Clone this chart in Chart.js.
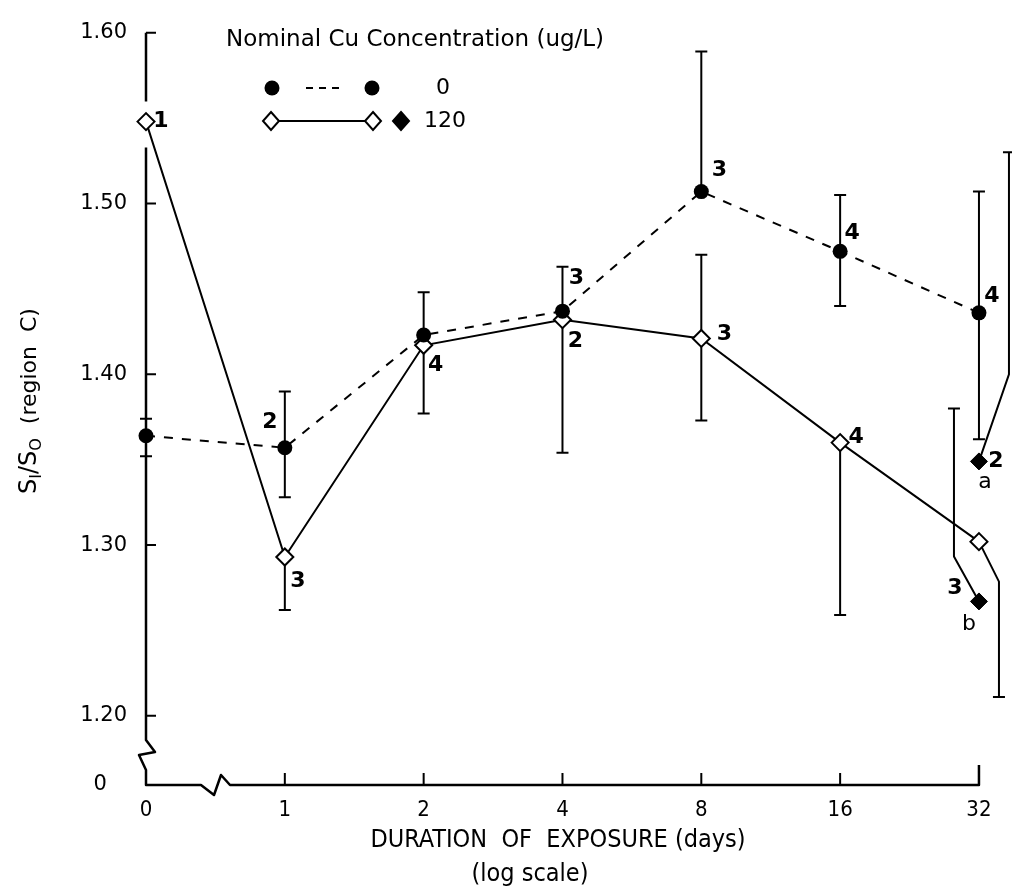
<!DOCTYPE html>
<html lang="en">
<head>
<meta charset="UTF-8">
<title>Sl/So region C vs exposure</title>
<script src="https://cdn.jsdelivr.net/npm/chart.js"></script>
<style>
  html, body { margin: 0; padding: 0; background: #fff; }
  canvas { display: block; }
</style>
</head>
<body>
<canvas id="cuChart" width="1012" height="890"></canvas>
<script>
// exposure days on a log axis, plotted at evenly spaced positions
const dayLabels = ['0', '1', '2', '4', '8', '16', '32'];
const dayPos = [0, 1, 2, 3, 4, 5, 6];
const yTickValues = [1.20, 1.30, 1.40, 1.50, 1.60];

// 0 ug/L
const ctrlMean = [1.364, 1.357, 1.423, 1.437, 1.507, 1.472, 1.436];
const ctrlHigh = [1.374, 1.390, 1.448, 1.463, 1.589, 1.505, 1.507];
const ctrlLow  = [1.352, 1.328, 1.377, null, null, 1.440, 1.362];
const ctrlN    = [null, '2', null, '3', '3', '4', '4'];

// 120 ug/L
const cuMean = [1.548, 1.293, 1.417, 1.432, 1.421, 1.360, 1.302];
const cuHigh = [null, null, null, null, 1.470, null, null];
const cuLow  = [null, 1.262, null, 1.354, 1.373, 1.259, 1.211];
const cuN    = ['1', '3', '4', '2', '3', '4', null];

// 120 ug/L, groups a and b at 32 days
const groupNames = ['a', 'b'];
const groupMean  = [1.349, 1.267];
const groupHigh  = [1.530, 1.380];
const groupN     = ['2', '3'];

const FONT = '"DejaVu Sans", sans-serif';
const NARROW = '"DejaVu Sans Condensed", "Liberation Sans Narrow", "DejaVu Sans", sans-serif';

const pts = (xs, ys) => ys.map((v, i) => ({ x: xs[i], y: v }));

// error bars, drawn under the markers; "leaders" bend the bar sideways
const errorBars = {
  id: 'errorBars',
  beforeDatasetsDraw(chart) {
    const ctx = chart.ctx, ys = chart.scales.y;
    ctx.save();
    ctx.strokeStyle = '#000';
    ctx.lineWidth = 2;
    chart.data.datasets.forEach((ds, i) => {
      const meta = chart.getDatasetMeta(i);
      meta.data.forEach((pt, j) => {
        ['errHigh', 'errLow'].forEach(key => {
          const end = ds[key] ? ds[key][j] : null;
          if (end == null) return;
          const ye = ys.getPixelForValue(end);
          const lead = ds.leaders ? ds.leaders[j] : null;
          let x = pt.x, y = pt.y;
          ctx.beginPath();
          ctx.moveTo(x, y);
          if (lead) {
            x += lead.dx;
            y += (ye < y ? -1 : 1) * lead.dy;
            ctx.lineTo(x, y);
          }
          ctx.lineTo(x, ye);
          ctx.moveTo(x - 6, ye);
          ctx.lineTo(x + 6, ye);
          ctx.stroke();
        });
      });
    });
    ctx.restore();
  }
};

// axes with inward ticks and the broken-axis marks
const brokenAxes = {
  id: 'brokenAxes',
  beforeDatasetsDraw(chart) {
    const { ctx, chartArea: a, scales: { x, y } } = chart;
    const L = a.left, B = a.bottom;
    const gapY = y.getPixelForValue(cuMean[0]);
    ctx.save();
    ctx.strokeStyle = '#000';
    ctx.lineWidth = 2.5;
    ctx.lineJoin = 'round';
    ctx.beginPath();
    // y axis, interrupted around the first 120 ug/L point
    ctx.moveTo(L, y.getPixelForValue(1.60));
    ctx.lineTo(L, gapY - 20);
    ctx.moveTo(L, gapY + 26);
    // break near the bottom
    ctx.lineTo(L, B - 45);
    ctx.lineTo(L + 9, B - 33);
    ctx.lineTo(L - 7, B - 30);
    ctx.lineTo(L, B - 15);
    ctx.lineTo(L, B);
    // x axis with break after 0
    ctx.lineTo(L + 55, B);
    ctx.lineTo(L + 68, B + 10);
    ctx.lineTo(L + 75, B - 10);
    ctx.lineTo(L + 84, B);
    ctx.lineTo(x.getPixelForValue(6), B);
    ctx.lineTo(x.getPixelForValue(6), B - 20);
    ctx.stroke();
    ctx.lineWidth = 2;
    ctx.beginPath();
    yTickValues.forEach(v => {
      const py = y.getPixelForValue(v);
      ctx.moveTo(L, py);
      ctx.lineTo(L + 10, py);
    });
    dayPos.slice(1, 6).forEach(v => {
      const px = x.getPixelForValue(v);
      ctx.moveTo(px, B);
      ctx.lineTo(px, B - 12);
    });
    ctx.stroke();
    ctx.restore();
  }
};

// sample-size numbers and group letters next to the points
const pointNotes = {
  id: 'pointNotes',
  afterDatasetsDraw(chart) {
    const ctx = chart.ctx;
    ctx.save();
    ctx.fillStyle = '#000';
    ctx.textAlign = 'center';
    ctx.textBaseline = 'middle';
    chart.data.datasets.forEach((ds, i) => {
      if (!ds.notes) return;
      const meta = chart.getDatasetMeta(i);
      ds.notes.forEach((list, j) => {
        (list || []).forEach(n => {
          ctx.font = (n.bold ? 'bold ' : '') + '22px ' + FONT;
          ctx.fillText(n.text, meta.data[j].x + n.dx, meta.data[j].y + n.dy);
        });
      });
    });
    ctx.restore();
  }
};

// legend, y title with subscripts, two-line x title
const annotations = {
  id: 'annotations',
  afterDraw(chart) {
    const ctx = chart.ctx;
    ctx.save();
    ctx.fillStyle = '#000';
    ctx.strokeStyle = '#000';
    ctx.textBaseline = 'middle';

    ctx.font = '23px ' + FONT;
    ctx.textAlign = 'left';
    ctx.fillText('Nominal Cu Concentration (ug/L)', 226, 40);

    const dot = (cx, cy) => { ctx.beginPath(); ctx.arc(cx, cy, 7.5, 0, Math.PI * 2); ctx.fill(); };
    const diamond = (cx, cy, filled) => {
      ctx.beginPath();
      ctx.moveTo(cx, cy - 9); ctx.lineTo(cx + 8, cy); ctx.lineTo(cx, cy + 9); ctx.lineTo(cx - 8, cy); ctx.closePath();
      ctx.fillStyle = filled ? '#000' : '#fff';
      ctx.fill();
      ctx.lineWidth = 2;
      ctx.stroke();
      ctx.fillStyle = '#000';
    };
    dot(272, 88);
    ctx.lineWidth = 2;
    ctx.setLineDash([7, 6]);
    ctx.beginPath(); ctx.moveTo(306, 88); ctx.lineTo(342, 88); ctx.stroke();
    ctx.setLineDash([]);
    dot(372, 88);
    ctx.beginPath(); ctx.moveTo(279, 121); ctx.lineTo(365, 121); ctx.stroke();
    diamond(271, 121, false);
    diamond(373, 121, false);
    diamond(401, 121, true);
    ctx.font = '22px ' + FONT;
    ctx.textAlign = 'center';
    ctx.fillText('0', 443, 88);
    ctx.fillText('120', 445, 121);

    // y title: S_I/S_O (region C)
    ctx.save();
    ctx.translate(30, 494);
    ctx.rotate(-Math.PI / 2);
    ctx.textAlign = 'left';
    let xx = 0;
    const put = (t, size, dy) => {
      ctx.font = size + 'px ' + FONT;
      ctx.fillText(t, xx, dy);
      xx += ctx.measureText(t).width;
    };
    put('S', 24, 0); put('I', 16, 7); put('/', 24, 0);
    put('S', 24, 0); put('O', 16, 7); put('  (region  C)', 22, 0);
    ctx.restore();

    // x title
    ctx.font = '25px ' + NARROW;
    ctx.textAlign = 'center';
    ctx.fillText('DURATION  OF  EXPOSURE (days)', 558, 840);
    ctx.fillText('(log scale)', 530, 874);
    ctx.restore();
  }
};

new Chart(document.getElementById('cuChart'), {
  type: 'line',
  data: {
    datasets: [
      {
        label: '0',
        data: pts(dayPos, ctrlMean),
        errHigh: ctrlHigh,
        errLow: ctrlLow,
        notes: [
          null,
          [{ text: ctrlN[1], dx: -15, dy: -25, bold: true }],
          null,
          [{ text: ctrlN[3], dx: 14, dy: -33, bold: true }],
          [{ text: ctrlN[4], dx: 18, dy: -21, bold: true }],
          [{ text: ctrlN[5], dx: 12, dy: -18, bold: true }],
          [{ text: ctrlN[6], dx: 13, dy: -17, bold: true }]
        ],
        clip: false,
        borderColor: '#000',
        borderWidth: 2,
        borderDash: [9, 9],
        pointStyle: 'circle',
        pointRadius: 7.5,
        pointBackgroundColor: '#000',
        pointBorderColor: '#000',
        pointBorderWidth: 0,
        tension: 0
      },
      {
        label: '120',
        data: pts(dayPos, cuMean),
        errHigh: cuHigh,
        errLow: cuLow,
        leaders: [null, null, null, null, null, null, { dx: 20, dy: 40 }],
        notes: [
          [{ text: cuN[0], dx: 15, dy: 0, bold: true }],
          [{ text: cuN[1], dx: 13, dy: 24, bold: true }],
          [{ text: cuN[2], dx: 12, dy: 20, bold: true }],
          [{ text: cuN[3], dx: 13, dy: 22, bold: true }],
          [{ text: cuN[4], dx: 23, dy: -4, bold: true }],
          [{ text: cuN[5], dx: 16, dy: -5, bold: true }],
          null
        ],
        clip: false,
        borderColor: '#000',
        borderWidth: 2,
        pointStyle: 'rectRot',
        pointRadius: 8.5,
        pointBackgroundColor: '#fff',
        pointBorderColor: '#000',
        pointBorderWidth: 2,
        tension: 0
      },
      {
        label: '120 (a, b)',
        data: pts([6, 6], groupMean),
        errHigh: groupHigh,
        leaders: [{ dx: 30, dy: 87 }, { dx: -25, dy: 45 }],
        notes: [
          [{ text: groupN[0], dx: 17, dy: 0, bold: true }, { text: groupNames[0], dx: 6, dy: 21 }],
          [{ text: groupN[1], dx: -24, dy: -13, bold: true }, { text: groupNames[1], dx: -10, dy: 23 }]
        ],
        clip: false,
        showLine: false,
        pointStyle: 'rectRot',
        pointRadius: 8.5,
        pointBackgroundColor: '#000',
        pointBorderColor: '#000',
        pointBorderWidth: 1
      }
    ]
  },
  options: {
    responsive: false,
    animation: false,
    layout: { autoPadding: false, padding: { top: 21, right: 0, bottom: 0, left: 0 } },
    plugins: { legend: { display: false }, tooltip: { enabled: false } },
    scales: {
      x: {
        type: 'linear',
        min: 0,
        max: 6.238,
        grid: { display: false, drawTicks: false },
        border: { display: false },
        afterBuildTicks: s => { s.ticks = dayPos.map(v => ({ value: v })); },
        afterFit: s => { s.height = 105; },
        ticks: {
          callback: (v, i) => dayLabels[i],
          color: '#000',
          font: { family: NARROW, size: 22 },
          padding: 12,
          maxRotation: 0,
          autoSkip: false
        }
      },
      y: {
        type: 'linear',
        min: 1.1595,
        max: 1.6007,
        grid: { display: false, drawTicks: false },
        border: { display: false },
        afterBuildTicks: s => { s.ticks = [{ value: s.min }].concat(yTickValues.map(v => ({ value: v }))); },
        afterFit: s => { s.width = 146; },
        ticks: {
          callback: (v, i) => i === 0 ? '0   ' : v.toFixed(2),
          color: '#000',
          font: { family: FONT, size: 21 },
          padding: 19
        }
      }
    }
  },
  plugins: [brokenAxes, errorBars, pointNotes, annotations]
});
</script>
</body>
</html>
